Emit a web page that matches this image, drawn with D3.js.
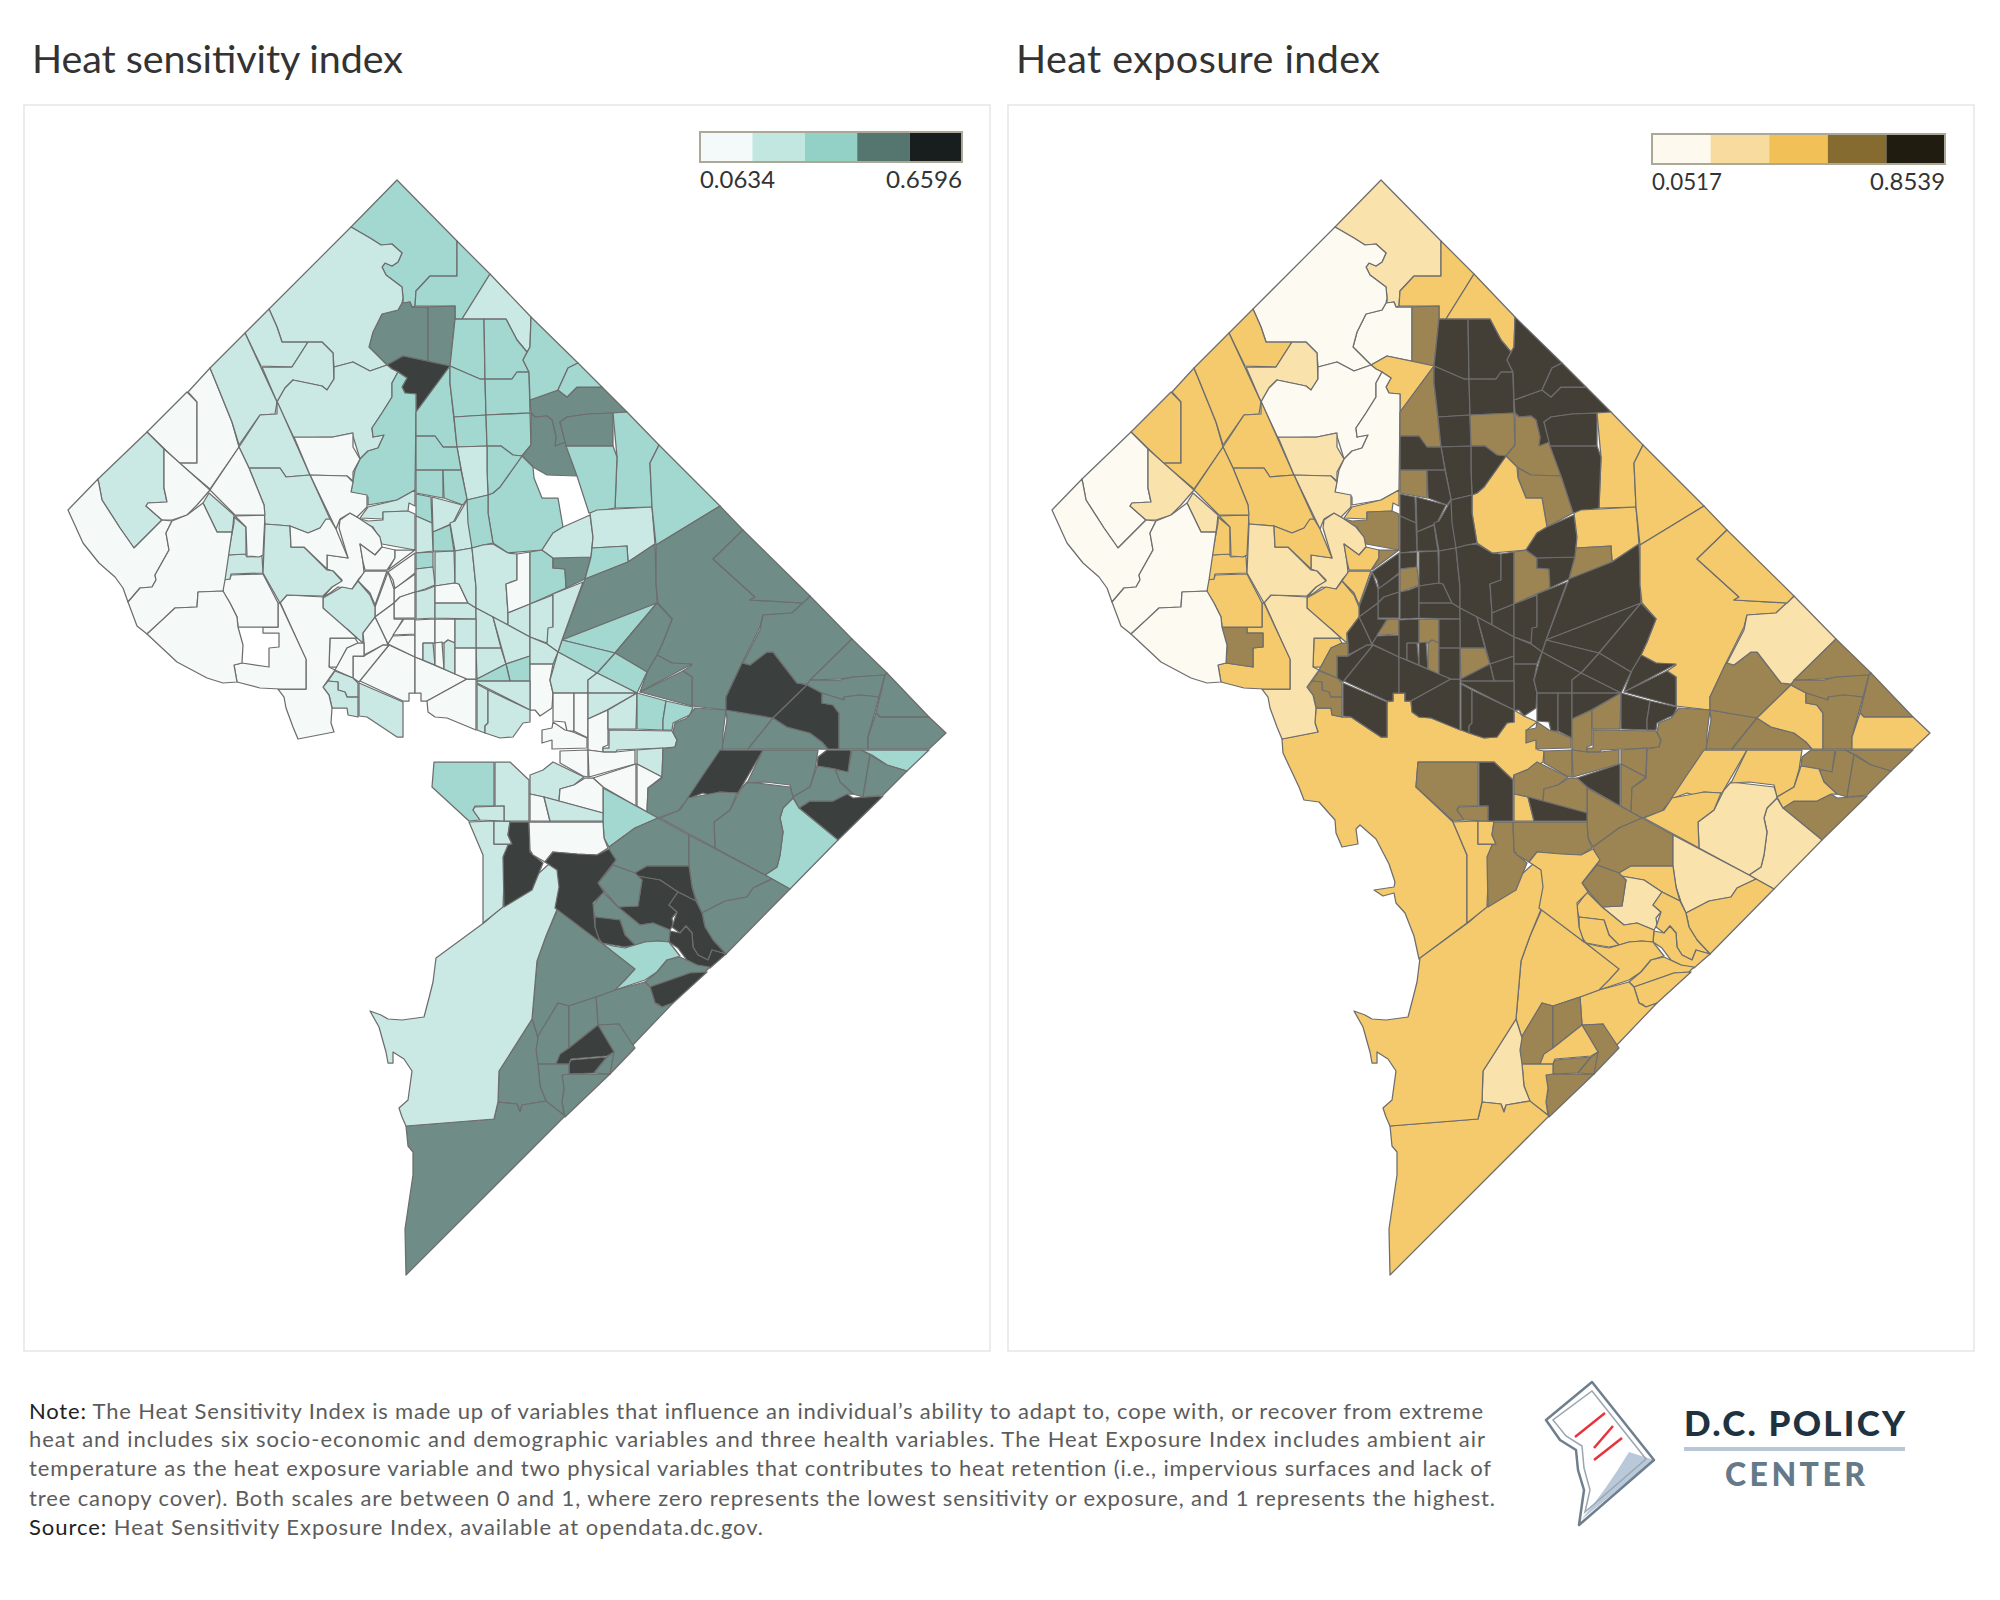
<!DOCTYPE html>
<html><head><meta charset="utf-8">
<script src="https://cdn.jsdelivr.net/npm/d3@7"></script>
<style>html,body{margin:0;background:#fff}svg{display:block;font-family:Lato,"Open Sans",sans-serif}</style>
</head><body><div id="chart"></div>
<script>
// Census-tract outlines in map-grid units (flat x,y lists).
const tractOutlines = [
[298,739,334,732,331,723,332,708,347,708,348,715,358,717,367,717,397,737,403,737,403,702,409,701,409,693,421,693,421,701,427,701,428,712,435,717,447,718,485,733,500,738,513,737,523,723,530,722,530,710,540,716,553,722,543,730,543,742,553,737,554,750,560,751,559,762,550,768,542,770,530,775,529,780,510,762,434,762,432,787,469,822,483,855,483,923,435,959,430,936,421,913,412,903,410,893,399,896,390,890,410,887,411,882,405,864,392,839,376,825,372,829,374,844,358,847,352,833,351,820,335,802,320,800,315,787,299,753],
[397,180,457,241,457,276,430,276,416,291,415,306,412,307,410,302,403,303,403,298,402,287,386,275,382,267,385,263,392,266,398,262,402,253,392,244,381,245,370,238,351,227],
[457,241,490,274,462,319,455,319,455,306,415,306,416,291,430,276,457,276],
[490,274,531,317,530,347,527,352,517,340,506,319,462,319],
[428,307,428,361,403,356,387,365,369,347,373,332,382,314,398,310,402,303,410,302,412,307],
[428,307,455,306,455,319,450,366,428,361],
[387,365,403,356,450,366,416,412,416,394,405,393,402,387,407,378,398,372,392,369],
[269,309,351,227,370,238,381,245,392,244,402,253,398,262,392,266,385,263,382,267,386,275,402,287,403,298,402,303,398,310,382,314,373,332,369,347,387,365,370,371,353,362,334,367,333,353,322,342,282,342,277,327],
[269,309,277,327,282,342,308,342,292,367,261,366,245,333],
[262,367,292,367,308,342,322,342,333,353,334,379,327,390,322,386,293,380,285,388,277,402],
[334,367,353,362,370,371,387,365,392,369,398,372,392,383,392,397,382,413,372,428,373,437,384,435,378,448,368,451,360,459,352,433,333,437,294,438,277,402,285,388,293,380,322,386,327,390,334,379],
[416,412,416,394,405,393,402,387,407,378,398,372,392,383,392,397,382,413,372,428,373,437,384,435,378,448,368,451,360,459,355,470,351,492,368,497,368,505,397,500,415,490],
[416,412,450,366,450,383,457,447,443,447,435,436,416,436],
[455,319,484,319,485,379,480,379,450,366],
[484,319,506,319,517,340,527,352,523,360,529,372,517,372,512,379,485,379],
[450,366,480,379,485,379,486,415,454,417,450,383],
[485,379,512,379,517,372,529,372,530,413,486,415],
[454,417,486,415,487,446,457,447],
[486,415,530,413,531,445,522,456,513,455,501,446,487,446],
[530,400,558,390,567,397,577,387,602,387,627,412,613,413,588,414,567,417,560,422,566,442,555,446,556,437,552,420,547,416,535,417,531,413],
[531,413,535,417,547,416,552,420,556,437,555,446,566,442,577,476,547,475,533,467,522,456,531,445],
[560,422,567,417,588,414,613,413,613,446,566,446],
[531,317,578,363,568,368,558,390,530,400,529,372,523,360,530,347],
[578,363,602,387,577,387,567,397,558,390,568,368],
[627,412,659,445,650,463,652,507,615,508,617,457,613,413],
[566,446,613,446,617,457,615,508,589,513,577,476],
[534,468,547,475,577,476,589,513,563,527,558,498,542,498,534,478],
[522,456,533,467,534,478,542,498,558,498,563,527,553,533,542,550,508,553,493,543,488,513,488,495,493,493,500,487],
[487,446,501,446,513,455,522,456,500,487,493,493,488,495,487,470],
[457,447,487,446,487,470,488,495,467,500],
[416,436,435,436,443,447,457,447,461,470,416,470],
[416,470,443,470,443,498,416,493],
[443,470,461,470,467,499,463,505,444,498],
[416,494,431,497,432,523,416,516],
[432,497,462,505,453,523,433,532],
[467,500,471,520,472,548,455,551,450,523,455,521],
[467,500,488,495,488,513,493,543,483,545,472,548,468,523],
[433,532,450,525,454,551,433,551],
[416,516,432,523,433,551,416,553],
[416,553,433,552,433,567,416,569],
[416,569,433,567,435,585,425,589,416,592],
[416,592,425,590,435,586,435,618,416,619],
[435,552,454,551,455,583,435,586],
[435,586,455,583,459,584,468,603,435,603],
[435,603,468,603,476,608,476,619,435,618],
[455,551,472,548,476,587,476,608,468,603,459,584,455,583],
[472,548,483,545,493,544,508,553,517,554,517,580,506,584,508,613,508,625,476,608,476,587],
[517,554,530,552,530,604,508,613,506,584,517,580],
[530,552,542,550,553,558,553,568,565,569,566,588,530,604],
[553,558,591,557,585,579,566,588,565,569,553,568],
[542,550,553,533,563,527,590,515,593,537,591,557,553,558],
[590,513,597,510,652,507,655,544,628,562,627,546,592,548,593,537],
[592,548,627,546,628,562,585,579,591,557],
[650,463,659,445,720,506,656,545,652,507],
[585,579,628,562,655,544,657,603,562,640],
[720,506,743,530,713,559,755,597,750,600,803,603,792,613,763,615,760,627,742,663,726,697,726,710,692,706,692,677,683,671,692,665,672,663,657,655,663,642,672,619,658,603,656,585,656,545],
[657,655,672,663,692,664,640,692,648,670],
[683,671,692,677,692,706,640,692],
[562,640,657,603,615,653],
[657,603,672,619,663,642,657,655,647,672,615,653],
[615,653,647,672,637,693,597,673],
[562,640,615,653,597,673,558,652],
[508,613,530,604,530,637,508,625],
[530,604,553,595,553,627,547,643,530,637],
[553,594,583,582,562,640,558,652,547,644,548,628,553,627],
[476,608,493,617,501,648,476,648],
[476,648,501,648,506,664,477,679],
[493,617,508,625,530,637,530,656,506,664],
[506,664,530,656,530,681,510,681],
[477,679,506,664,510,681,477,681],
[530,637,547,644,558,652,553,664,530,664],
[530,664,553,664,550,680,553,693,552,708,540,716,535,710,530,710],
[558,652,597,673,588,680,588,693,553,693,550,680],
[597,673,637,693,588,693,588,680],
[477,681,530,681,530,710,477,683],
[477,684,488,690,488,723,485,726,485,733,477,730],
[488,690,530,710,530,722,523,723,513,737,500,738,485,733,485,726,488,723],
[389,645,415,657,415,693,409,693,409,701,403,701,360,681,360,679],
[415,657,467,679,427,701,421,701,421,693,415,693],
[467,679,476,679,476,730,447,718,435,717,428,712,427,701],
[359,683,403,702,403,737,397,737,367,717,359,716],
[368,507,397,500,415,490,415,506,409,503,408,511,383,512,383,519,360,518],
[357,518,368,521,383,520,383,512,408,511,415,514,415,550,382,544,373,527,360,521],
[357,517,350,513,340,520,339,528,348,558,327,555,327,569,333,571,342,580,332,587,323,597,330,593,338,587,352,589,358,580,364,573,363,562,360,544,375,555,382,547,380,537,372,527],
[360,544,375,555,382,547,395,550,395,558,387,570,365,570,363,562],
[395,550,415,550,388,570,395,558],
[388,572,415,553,415,573,395,589,393,580],
[394,589,415,574,415,592,400,597,394,603],
[365,571,387,571,375,605,370,593,358,581],
[388,572,394,589,394,603,375,617,375,607],
[394,603,400,597,415,592,415,618,394,618],
[323,598,342,587,352,589,358,581,370,595,375,607,375,617,363,633,363,643,357,638,347,629,332,618,323,608],
[375,617,394,603,394,619,403,619,393,636,388,644],
[404,619,415,619,415,634,393,635],
[375,617,386,640,388,645,383,645,364,655,364,643,363,633],
[393,636,415,635,415,657,388,644],
[353,656,364,656,383,645,389,645,359,682,353,678],
[330,638,355,638,358,643,347,648,337,667,329,667],
[358,643,364,643,364,656,353,656,353,678,335,670,347,648],
[335,671,353,678,358,683,358,697,347,697,345,692,338,690,338,682,328,681],
[328,681,338,682,338,690,345,692,347,697,358,697,358,717,348,715,347,708,332,708,329,695,323,687],
[280,602,287,595,323,597,323,608,347,629,357,638,330,638,329,667,335,670,323,687,329,695,332,708,331,723,334,732,298,739,293,727,286,708,284,697,278,689,306,689,306,660],
[280,603,306,659,306,689,280,689,260,688,237,682,234,665,242,663,269,667,269,648,279,647,279,633,263,633,263,627,278,627,278,603],
[237,627,263,627,263,633,279,633,279,647,269,648,269,667,242,663,243,645],
[223,580,230,579,231,575,263,574,278,603,278,627,238,627,237,617,230,603,223,592],
[228,555,245,554,247,557,262,556,263,573,231,574,230,579,223,580],
[234,517,246,527,246,554,228,555,234,523],
[235,516,265,515,263,555,259,557,247,556,246,527],
[203,503,209,493,234,515,233,525,232,532,217,532],
[187,392,197,402,197,463,179,463,147,432],
[188,392,210,368,215,380,232,422,239,447,210,489,179,463,197,463,197,402],
[210,368,245,333,277,402,275,414,260,415,239,445,232,422,215,380],
[239,447,260,415,277,414,277,401,310,475,286,477,280,468,249,468],
[294,437,333,437,353,433,353,447,360,459,353,472,353,481,347,476,310,475],
[310,475,347,476,353,482,351,492,367,495,367,507,357,517,350,513,340,519,336,529],
[249,468,280,468,286,477,310,475,330,519,320,528,308,533,290,526,265,524,264,505],
[239,447,249,468,264,505,265,515,235,515,210,490],
[265,524,290,526,291,547,304,547,327,570,333,571,342,581,332,587,323,596,287,595,280,603,263,573],
[290,526,308,533,320,528,326,519,330,519,336,529,348,558,327,555,327,569,304,547,291,547],
[98,479,147,432,164,449,164,488,167,502,148,503,146,506,162,520,134,548,120,528,102,500],
[164,449,210,490,197,505,187,515,172,520,162,520,146,506,148,503,167,502,164,488],
[68,510,98,479,102,500,120,528,134,548,162,520,172,521,166,533,169,550,155,575,156,580,152,587,140,588,128,602,123,588,115,577,99,563,83,543],
[172,521,187,515,203,503,217,532,232,532,225,580,223,591,198,592,197,607,175,608,166,617,147,634,137,626,128,602,140,588,152,587,156,580,155,575,169,550,166,533],
[147,634,175,608,197,607,198,592,223,591,230,603,237,617,238,627,243,645,242,663,234,665,237,682,223,683,207,678,177,662],
[415,620,435,619,435,643,423,643,423,660,415,657],
[423,643,433,643,435,665,423,660],
[435,619,455,619,455,643,448,640,444,643,435,643],
[435,643,442,642,444,669,435,665],
[444,643,448,640,455,643,455,674,444,669],
[455,619,476,619,476,648,455,648],
[455,648,476,648,476,679,467,679,455,674],
[553,693,574,693,574,731,567,731,565,722,553,721],
[574,693,588,693,588,738,574,731],
[588,693,637,693,607,710,588,719],
[588,719,608,710,608,745,603,747,603,752,588,750],
[608,710,637,693,636,729,608,729],
[637,693,666,701,663,720,663,730,637,729],
[666,701,693,707,690,715,683,718,673,723,672,730,663,730,663,720],
[609,730,672,731,677,740,675,747,663,748,617,750,616,752,603,752,603,748,609,748],
[560,751,588,750,588,777,583,776,560,763],
[553,722,565,730,573,732,587,738,587,748,552,749,552,740,542,743,542,730,552,728],
[588,750,603,752,616,752,635,750,635,764,589,777],
[637,750,663,748,662,777,637,764],
[593,778,636,764,636,806,603,787],
[637,764,662,777,648,788,647,812,637,806],
[695,708,726,710,723,733,723,750,710,772,688,799,678,811,658,818,647,812,648,788,662,778,663,749,675,747,677,740,673,732,675,723,687,718],
[720,750,763,750,738,793,720,792,710,795,703,793,687,799,703,775],
[726,710,773,718,748,749,722,749,727,720],
[773,718,787,727,810,733,822,742,828,749,748,749],
[726,697,742,663,750,665,767,652,773,652,797,683,807,685,773,718,726,710],
[807,685,822,693,822,703,833,705,839,713,839,749,828,749,822,742,810,733,787,727,773,718],
[810,596,852,639,807,684,797,683,773,652,767,652,750,665,743,663,760,630,763,615,792,613],
[743,530,810,596,803,603,750,600,755,597,713,559],
[852,639,887,673,885,675,853,677,840,679,810,680],
[810,680,840,680,853,677,885,675,879,697,860,695,844,697,844,700,822,693,807,685],
[822,693,844,700,844,697,860,695,879,697,868,737,868,749,839,749,839,713,833,705,822,703],
[887,673,929,717,880,717,876,713,885,675],
[876,713,880,717,929,717,946,733,929,749,868,749,868,737],
[861,750,929,750,907,771,887,765,872,755],
[852,750,861,750,870,755,863,797,853,794,840,782,835,770,848,771],
[827,750,851,750,848,772,835,769,817,766,818,757],
[870,755,887,765,907,771,883,795,863,797],
[799,808,810,801,833,801,847,794,853,798,883,796,838,840],
[793,798,799,808,838,840,790,889,765,875,777,867,780,855,783,832,780,818,783,808],
[747,782,790,787,794,797,783,808,780,818,783,832,780,855,777,867,765,875,715,848,714,822,730,810,740,790],
[763,750,818,750,815,770,810,787,793,797,790,785,765,782,747,783],
[793,797,810,787,817,766,835,769,840,782,853,794,847,794,833,801,810,801,799,808],
[680,810,688,798,720,792,737,793,730,810,714,822,715,848,660,818],
[603,788,658,818,635,828,609,847,604,838,603,821],
[658,818,689,835,689,866,647,866,635,873,613,865,609,847,635,828],
[689,835,765,875,772,879,753,888,747,897,725,901,702,913,697,902,692,887,689,866],
[702,913,725,901,747,897,753,888,772,879,790,889,726,954,713,940,705,927],
[635,873,647,866,689,866,692,887,696,901,678,892,660,880,637,876],
[637,876,660,880,678,892,669,905,677,912,672,918,673,925,670,930,653,923,640,925,618,907,638,906,642,880],
[678,892,696,901,702,913,705,927,713,940,726,954,712,950,708,960,698,955,693,947,692,933,686,926,680,933,672,927,677,912,669,905],
[670,931,680,933,686,926,692,933,693,947,698,955,708,960,712,950,726,954,718,961,710,968,697,965,687,960,678,948,669,942],
[613,865,635,873,642,880,638,906,618,907,605,892,598,883],
[603,892,618,907,640,925,653,923,670,930,669,942,658,941,645,942,635,945,625,935,620,920,595,917,592,907],
[595,917,620,920,625,935,635,945,625,947,613,945,602,943,595,933],
[602,943,613,946,625,948,635,945,645,942,658,941,669,942,680,956,667,960,657,972,645,980,615,990,617,982,623,980,631,968],
[680,957,697,965,710,967,705,972,690,973,670,980,650,987,645,982,657,972,667,960],
[650,987,670,980,690,973,707,972,673,1003,662,1007,658,1004,655,1003],
[615,990,645,982,650,987,655,1003,662,1007,673,1003,630,1048,619,1024,598,1025,596,997],
[558,909,635,969,625,980,615,990,596,997,569,1006,558,1003,538,1038,532,1019,537,961,546,936],
[558,1003,569,1006,569,1048,556,1064,537,1064,536,1048,538,1036],
[569,1006,596,997,598,1025,569,1048],
[598,1025,619,1024,635,1048,610,1074,607,1072,614,1052],
[598,1025,614,1052,607,1056,571,1059,569,1064,556,1064,560,1054,569,1048],
[571,1060,607,1057,594,1073,569,1074,569,1064],
[607,1057,614,1052,610,1074,594,1073],
[569,1074,610,1074,565,1117,562,1102,564,1090,562,1075],
[538,1064,569,1064,569,1074,562,1075,564,1088,562,1102,564,1115,546,1102,540,1086],
[532,1019,538,1038,536,1050,538,1064,540,1086,546,1101,522,1105,520,1112,517,1104,498,1102,499,1071,508,1057],
[406,1126,494,1119,498,1102,517,1104,520,1112,522,1105,546,1101,565,1116,406,1275,405,1229,413,1175,413,1152,408,1146],
[549,864,560,870,563,882,558,907,546,936,537,961,532,1019,508,1057,499,1071,498,1102,494,1119,406,1126,402,1117,399,1108,408,1100,412,1071,404,1059,393,1052,393,1063,388,1063,386,1052,379,1027,370,1011,381,1015,388,1019,402,1020,424,1017,429,998,433,982,436,958,485,922],
[469,822,494,821,494,844,512,844,505,857,503,907,483,923,483,855],
[494,821,510,821,508,835,512,844,494,844],
[510,822,529,822,530,852,543,863,532,890,504,907,503,857,508,845,512,844,508,835],
[529,822,603,822,604,838,608,848,597,855,577,854,553,852,545,862,533,855,530,850],
[553,852,577,854,597,855,609,849,616,860,598,883,604,892,593,903,595,927,600,942,555,908,559,887,557,870,545,862],
[495,762,510,762,529,780,529,821,504,821,504,806,495,806],
[434,762,494,762,494,806,475,806,473,810,480,820,469,821,432,787],
[475,807,504,806,504,821,480,820,473,810],
[530,775,543,770,553,762,584,777,574,785,560,789,559,801,544,797,530,794],
[560,789,574,785,585,778,593,778,603,787,603,813,559,801],
[530,794,544,797,550,821,530,821],
[544,797,603,813,603,821,550,821]
];

// Class (0-4) of each tract on each map; null = no value on that map.
const sensitivityClass = [
null,2,2,1,3,3,4,1,1,1, 1,2,2,2,2,2,2,2,2,3, 3,3,2,2,2,2,null,2,2,1, 2,2,2,2,1,1,2,2,1,2,
1,1,1,0,1,1,1,0,2,3, 1,1,2,2,3,3,3,3,2,3, 2,2,1,1,1,1,1,1,2,2, 1,0,1,1,1,1,1,0,0,0,
1,1,1,0,0,0,0,0,0,0, 0,1,0,0,0,0,0,0,0,1, 1,0,0,null,0,1,1,0,1,0, 0,1,1,0,0,1,0,1,0,1,
0,0,0,0,0,1,0,0,1,1, 0,0,0,1,0,1,2,2,1,0, 0,0,1,0,0,3,4,3,3,4, 4,3,3,3,3,3,3,3,2,3,
4,3,4,2,3,3,3,3,2,3, 3,3,4,4,4,4,3,3,4,2, 3,4,3,3,3,3,3,4,4,3, 3,3,3,3,1,1,1,4,0,4,
1,2,1,1,0,0,1
];
const exposureClass = [
2,1,2,2,0,3,2,0,2,1, 0,0,3,4,4,4,4,4,3,4, 3,4,4,4,2,4,3,2,4,4, 4,3,4,4,4,4,4,4,4,4,
3,4,4,4,4,4,4,4,3,4, 4,2,3,2,4,2,4,4,4,4, 4,4,4,4,4,4,3,4,4,4, 4,4,4,4,4,4,4,4,4,4,
4,2,3,1,2,3,4,4,2,4, 4,2,4,3,4,4,4,2,3,3, 3,1,2,3,2,2,2,2,1,2, 2,2,2,1,1,2,2,1,2,0,
1,0,0,0,4,4,3,4,3,4, 4,4,4,4,3,3,4,4,3,3, 3,3,3,4,3,3,2,3,3,3, 2,1,2,3,3,3,3,2,3,3,
3,3,3,1,1,2,2,2,3,3, 1,2,2,1,2,2,3,2,2,2, 2,2,2,2,3,3,3,2,3,3, 3,2,1,2,2,2,2,3,3,2,
4,3,3,3,3,2,4
];
const sensitivityColors = ["#f5faf9","#cbe9e4","#a3d8d0","#6f8c87","#3b3f3e"];
const exposureColors = ["#fdfaf2","#f9e2ac","#f4ca6d","#9c8552","#433e36"];
const sensitivityLegendColors = ["#f4fafa","#c2e6e0","#93d1c7","#54766f","#181e1e"];
const exposureLegendColors = ["#fdf9ef","#f8dc9f","#f1c056","#866b31","#211c10"];
const sensitivityLegendLabels = ["0.0634","0.6596"];
const exposureLegendLabels = ["0.0517","0.8539"];
const panelTitles = ["Heat sensitivity index","Heat exposure index"];
const noteLines = [
 [["Note:",1],[" The Heat Sensitivity Index is made up of variables that influence an individual\u2019s ability to adapt to, cope with, or recover from extreme",0]],
 [["heat and includes six socio-economic and demographic variables and three health variables. The Heat Exposure Index includes ambient air",0]],
 [["temperature as the heat exposure variable and two physical variables that contributes to heat retention (i.e., impervious surfaces and lack of",0]],
 [["tree canopy cover). Both scales are between 0 and 1, where zero represents the lowest sensitivity or exposure, and 1 represents the highest.",0]],
 [["Source:",1],[" Heat Sensitivity Exposure Index, available at opendata.dc.gov.",0]]
];

const svg = d3.select("#chart").append("svg").attr("width",2000).attr("height",1600);
const noteRight = [1483,1485,1491,1495,763];

const panels = [
 {x0:24,x1:990,title:32,titleW:371,shift:0,classes:sensitivityClass,colors:sensitivityColors,legendColors:sensitivityLegendColors,labels:sensitivityLegendLabels,lx:[700,962],ly:132,lw:[75,76]},
 {x0:1008,x1:1974,title:1016,titleW:364,shift:984,classes:exposureClass,colors:exposureColors,legendColors:exposureLegendColors,labels:exposureLegendLabels,lx:[1652,1945],ly:134,lw:[70,75]}
];
const yScale = d3.scaleLinear().domain([0,1000]).range([0,1000]);
panels.forEach((p,pi)=>{
  svg.append("text").attr("x",p.title).attr("y",73).attr("font-size",39.5).attr("fill","#333").attr("textLength",p.titleW).attr("lengthAdjust","spacing").text(panelTitles[pi]);
  svg.append("rect").attr("x",p.x0).attr("y",105).attr("width",p.x1-p.x0).attr("height",1246).attr("fill","#fff").attr("stroke","#e2e2e2").attr("stroke-width",1.3);
  const xScale = d3.scaleLinear().domain([0,1000]).range([p.shift,1000+p.shift]);
  const projection = d3.geoTransform({point(x,y){this.stream.point(xScale(x),yScale(y));}});
  const path = d3.geoPath(projection);
  const color = d3.scaleOrdinal().domain([0,1,2,3,4]).range(p.colors);
  const tracts = tractOutlines.map((f,i)=>{
    const ring=[]; for(let k=0;k<f.length;k+=2) ring.push([f[k],f[k+1]]);
    ring.push(ring[0]);
    return {type:"Polygon",coordinates:[ring],cls:p.classes[i]};
  });
  svg.append("g").selectAll("path").data(tracts).join("path")
    .attr("d",path)
    .attr("fill",d=>d.cls===null?"none":color(d.cls))
    .attr("stroke",d=>d.cls===null?"none":"#6d6d6d")
    .attr("stroke-width",1.25).attr("stroke-linejoin","round");
  // legend
  const lg = svg.append("g");
  const band = d3.scaleBand().domain(d3.range(5)).range(p.lx);
  lg.selectAll("rect.s").data(p.legendColors).join("rect").attr("class","s")
    .attr("x",(d,i)=>band(i)).attr("y",p.ly).attr("width",band.bandwidth()).attr("height",30).attr("fill",d=>d);
  lg.append("rect").attr("x",p.lx[0]).attr("y",p.ly).attr("width",p.lx[1]-p.lx[0]).attr("height",30).attr("fill","none").attr("stroke","#aba996").attr("stroke-width",2);
  lg.append("text").attr("x",p.lx[0]).attr("y",p.ly+56).attr("font-size",24).attr("fill","#333").attr("textLength",p.lw[0]).attr("lengthAdjust","spacingAndGlyphs").text(p.labels[0]);
  lg.append("text").attr("x",p.lx[1]-p.lw[1]).attr("y",p.ly+56).attr("font-size",24).attr("fill","#333").attr("textLength",p.lw[1]).attr("lengthAdjust","spacingAndGlyphs").text(p.labels[1]);
});

// note
const baselines=[1419,1447,1476,1506,1535];
noteLines.forEach((ln,i)=>{
  const t=svg.append("text").attr("x",29).attr("y",baselines[i]).attr("font-size",22)
    .attr("textLength",noteRight[i]-29).attr("lengthAdjust","spacing");
  ln.forEach(s=>t.append("tspan").attr("fill",s[1]?"#222":"#5c5c5c").text(s[0]));
});

// logo
const logo=svg.append("g");
logo.append("path").attr("d","M1629,1452 L1654,1460 L1581,1520 Q1606,1490 1629,1452Z").attr("fill","#b9c9da").attr("stroke","none");
logo.append("path").attr("d","M1592,1382 L1654,1460 L1579,1525 L1584,1490 L1578,1470 L1576,1450 L1560,1440 L1546,1420 Z")
  .attr("fill","none").attr("stroke","#6f7f8d").attr("stroke-width",2.5).attr("stroke-linejoin","round");
logo.append("path").attr("d","M1592,1391 L1646,1459 L1585,1512 L1590,1490 L1584,1468 L1582,1446 L1566,1436 L1553,1420 Z")
  .attr("fill","none").attr("stroke","#9aa7b3").attr("stroke-width",1.5);
[[1575,1437,1605,1413],[1594,1448,1613,1426],[1594,1460,1622,1438]].forEach(l=>{
  logo.append("line").attr("x1",l[0]).attr("y1",l[1]).attr("x2",l[2]).attr("y2",l[3]).attr("stroke","#e8323c").attr("stroke-width",2.5);
});
logo.append("text").attr("x",1684).attr("y",1436).attr("font-size",35).attr("font-weight",900).attr("fill","#1f3240").attr("textLength",221).attr("lengthAdjust","spacing").text("D.C. POLICY");
logo.append("rect").attr("x",1684).attr("y",1447).attr("width",221).attr("height",4).attr("fill","#b8c6d6");
logo.append("text").attr("x",1725).attr("y",1486).attr("font-size",32).attr("font-weight",900).attr("fill","#64798a").attr("textLength",140).attr("lengthAdjust","spacing").text("CENTER");

if(tractOutlines.length!==sensitivityClass.length||tractOutlines.length!==exposureClass.length) throw new Error("len "+tractOutlines.length+" "+sensitivityClass.length+" "+exposureClass.length);
</script></body></html>
